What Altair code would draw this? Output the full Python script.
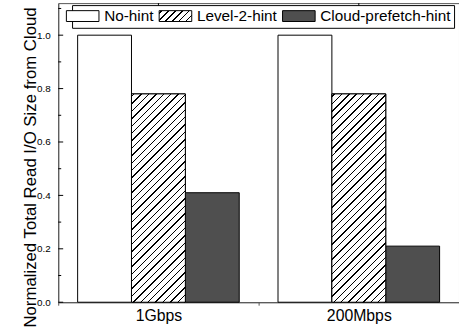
import json
import altair as alt
import pandas as pd

# ---- data -------------------------------------------------------------
groups = ["1Gbps", "200Mbps"]
series = ["No-hint", "Level-2-hint", "Cloud-prefetch-hint"]
no_hint = [1.0, 1.0]
level2_hint = [0.78, 0.78]
cloud_prefetch_hint = [0.41, 0.21]

major_ticks = [0.0, 0.2, 0.4, 0.6, 0.8, 1.0]
minor_ticks = [0.1, 0.3, 0.5, 0.7, 0.9, 1.1]

rows = []
for i, g in enumerate(groups):
    for s, vals in zip(series, [no_hint, level2_hint, cloud_prefetch_hint]):
        rows.append({"group": g, "series": s, "value": vals[i]})
df = pd.DataFrame(rows)

# ---- geometry ---------------------------------------------------------
PLOT_W = 406
PLOT_H = 303
Y_MAX = 1.12
OUTER = 0.36
BAR_W = (PLOT_W / len(groups)) / (len(series) + 2 * OUTER)
FONT = "Liberation Sans"
AXIS_GREY = "#555555"
CHECKER = "#4f4f4f"
Y_TITLE = "Normalized Total Read I/O Size from Cloud"


def hatch(w, h, period, thick, phase=2.0):
    """Linear gradient with hard stops that renders '/' hatching at 45deg
    inside a w x h pixel box (gradient uses bounding-box units)."""
    total = w + h
    k = total / (w * w + h * h)
    stops = [{"offset": 0, "color": "white"}]
    s = phase
    while s < total:
        a = round(s / total, 5)
        b = round(min((s + thick) / total, 1.0), 5)
        stops += [
            {"offset": a, "color": "white"},
            {"offset": a, "color": "black"},
            {"offset": b, "color": "black"},
            {"offset": b, "color": "white"},
        ]
        s += period
    stops.append({"offset": 1, "color": "white"})
    return {"gradient": "linear", "x1": 0, "y1": 0,
            "x2": round(w * k, 5), "y2": round(h * k, 5), "stops": stops}


x_scale = alt.Scale(domain=groups, paddingInner=0, paddingOuter=0)
off_scale = alt.Scale(domain=series, paddingInner=0, paddingOuter=OUTER)
y_scale = alt.Scale(domain=[0, Y_MAX], nice=False)

x_axis = alt.Axis(title=None, labelAngle=0, tickBand="extent",
                  tickSize=3, tickColor=AXIS_GREY, labelPadding=3,
                  labelFontSize=16)
y_axis = alt.Axis(values=major_ticks, format=".1f", ticks=False,
                  labelPadding=8, labelFontSize=10,
                  title=Y_TITLE, titleFontSize=17, titleFontWeight="normal",
                  titleAngle=270, titleAlign="center",
                  titleBaseline="alphabetic", titleX=-23, titleY=166)

X = alt.X("group:N", sort=groups, scale=x_scale, axis=x_axis)
Y = alt.Y("value:Q", scale=y_scale, axis=y_axis)
XOFF = alt.XOffset("series:N", sort=series, scale=off_scale)

# hatch sized for the 33x11 legend swatch, supplied to the colour range
legend_hatch = {"expr": json.dumps(hatch(33, 11, 7, 1.5))}

bars = alt.Chart(df).mark_bar(stroke="black", strokeWidth=1).encode(
    x=X, xOffset=XOFF, y=Y,
    fill=alt.Fill("series:N", sort=series,
                  scale=alt.Scale(domain=series,
                                  range=["white", legend_hatch, CHECKER]),
                  legend=alt.Legend(
                      title=None, orient="none", legendX=14, legendY=2,
                      direction="horizontal",
                      symbolType="M-3,-1H3V1H-3Z", symbolSize=121,
                      symbolStrokeColor="black", symbolStrokeWidth=1,
                      symbolOpacity=1,
                      labelFont=FONT, labelFontSize=15.5, labelColor="black",
                      labelOffset=14, columnPadding=3, padding=3,
                      strokeColor="black", fillColor="white",
                  )),
)

# hatched overlay for the Level-2-hint bars
hatch_layers = []
for g, v in zip(groups, level2_hint):
    h_px = v / Y_MAX * PLOT_H
    hatch_layers.append(
        alt.Chart(df)
        .transform_filter(f"datum.group === '{g}' && datum.series === 'Level-2-hint'")
        .mark_bar(fill=hatch(BAR_W, h_px, 7.5, 1.5), stroke="black", strokeWidth=1)
        .encode(x=X, xOffset=XOFF, y=Y)
    )

# inward ticks on the left axis
major = alt.Chart(pd.DataFrame({"value": major_ticks})).mark_rule(
    color="black", strokeWidth=1).encode(y=Y, x=alt.value(0), x2=alt.value(5))
minor = alt.Chart(pd.DataFrame({"value": minor_ticks})).mark_rule(
    color="black", strokeWidth=1).encode(y=Y, x=alt.value(0), x2=alt.value(3))

# small ticks on the top frame at the group centres
top_ticks = alt.Chart(pd.DataFrame({"group": groups})).mark_rule(
    color="black", strokeWidth=1).encode(x=X, y=alt.value(0), y2=alt.value(4))

chart = alt.layer(bars, *hatch_layers, major, minor, top_ticks).properties(
    width=PLOT_W, height=PLOT_H,
    padding={"left": 59, "top": 1, "right": 0, "bottom": 28},
    autosize=alt.AutoSizeParams(type="none"),
).configure(font=FONT).configure_view(
    stroke=AXIS_GREY, strokeWidth=1
).configure_axis(
    domainColor=AXIS_GREY, labelColor="black", titleColor="black",
    labelFont=FONT, titleFont=FONT, grid=False
)

chart.save("out.html", embed_options={"renderer": "svg", "actions": False})
